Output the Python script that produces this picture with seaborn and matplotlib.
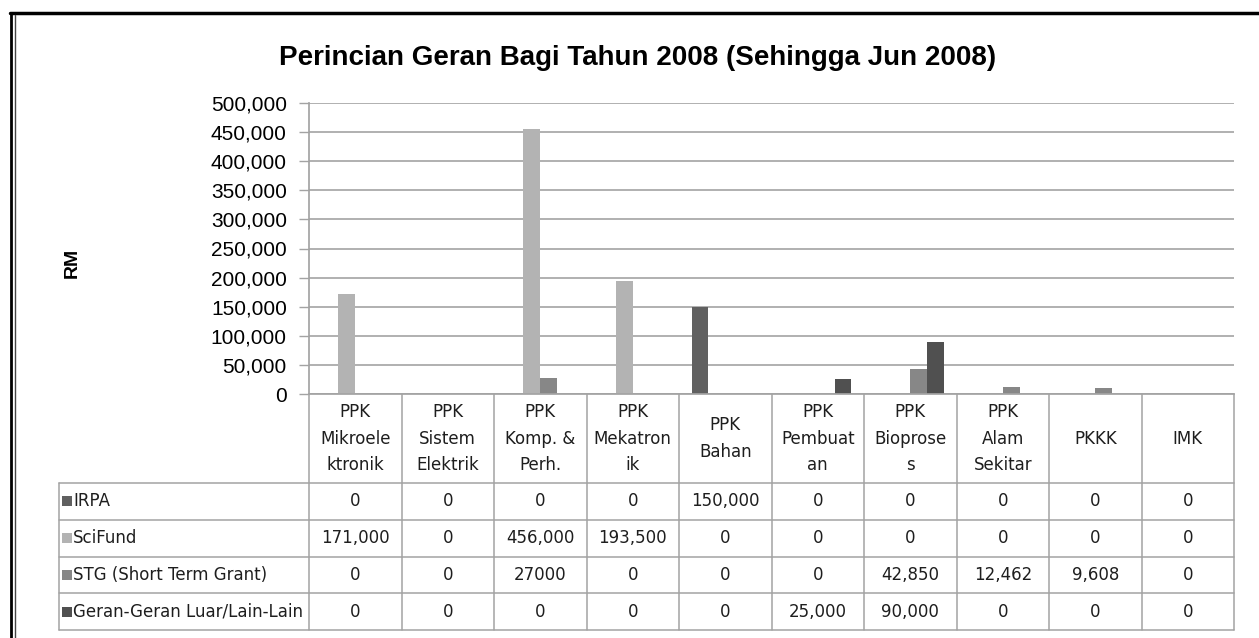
import numpy as np
import pandas as pd
import matplotlib
matplotlib.use("Agg")
import matplotlib.pyplot as plt
import matplotlib.transforms as mtransforms
from matplotlib.patches import Rectangle
from matplotlib.ticker import FuncFormatter
import seaborn as sns

# data (RM)
categories = ["PPK\nMikroele\nktronik", "PPK\nSistem\nElektrik", "PPK\nKomp. &\nPerh.",
              "PPK\nMekatron\nik", "PPK\nBahan", "PPK\nPembuat\nan", "PPK\nBioprose\ns",
              "PPK\nAlam\nSekitar", "PKKK", "IMK"]
series_names = ["IRPA", "SciFund", "STG (Short Term Grant)", "Geran-Geran Luar/Lain-Lain"]
irpa = [0, 0, 0, 0, 150000, 0, 0, 0, 0, 0]
scifund = [171000, 0, 456000, 193500, 0, 0, 0, 0, 0, 0]
stg = [0, 0, 27000, 0, 0, 0, 42850, 12462, 9608, 0]
geran = [0, 0, 0, 0, 0, 25000, 90000, 0, 0, 0]
y_ticks = [0, 50000, 100000, 150000, 200000, 250000, 300000, 350000, 400000, 450000, 500000]
# the source table prints this one cell without a thousands separator
plain_cells = {("STG (Short Term Grant)", 2)}

series_colors = ["#606060", "#b3b3b3", "#878787", "#505050"]
grid_color = "#a3a3a3"
W, H = 1259, 638

sns.set_theme(style="white")
plt.rcParams["font.family"] = ["Liberation Sans", "DejaVu Sans"]
plt.rcParams["text.color"] = "black"

values = [irpa, scifund, stg, geran]
df = pd.concat([
    pd.DataFrame({"category": categories, "series": name, "value": vals})
    for name, vals in zip(series_names, values)
], ignore_index=True)

fig = plt.figure(figsize=(W / 100, H / 100), dpi=100)
fig.patch.set_facecolor("white")


def fx(px):
    return px / W


def fy(py):
    return 1 - py / H


ax_left, ax_right, ax_top, ax_bottom = 309, 1234, 103, 394
ax = fig.add_axes([fx(ax_left), fy(ax_bottom), fx(ax_right - ax_left), (ax_bottom - ax_top) / H])

sns.barplot(data=df, x="category", y="value", hue="series", palette=series_colors,
            hue_order=series_names, order=categories, width=0.727, saturation=1,
            errorbar=None, linewidth=0, legend=False, ax=ax)

ax.set_xlim(-0.5, len(categories) - 0.5)
ax.set_ylim(0, 500000)
ax.set_yticks(y_ticks)
ax.yaxis.set_major_formatter(FuncFormatter(lambda v, p: f"{int(v):,}"))
ax.set_xticks([])
ax.set_xlabel("")
ax.set_ylabel("")
ax.set_axisbelow(True)
ax.yaxis.grid(True, color=grid_color, linewidth=1.2)
for side in ["top", "right"]:
    ax.spines[side].set_visible(False)
ax.spines["left"].set_color(grid_color)
ax.spines["bottom"].set_color(grid_color)
ax.tick_params(axis="y", which="major", direction="out", length=7, width=1,
               color=grid_color, labelsize=15, labelcolor="black", pad=9, left=True)

# title, y axis label
fig.text(fx(638), fy(58), "Perincian Geran Bagi Tahun 2008 (Sehingga Jun 2008)",
         ha="center", va="center", fontsize=20, fontweight="bold", color="black",
         family=["Liberation Sans Narrow", "Liberation Sans", "DejaVu Sans"])
fig.text(fx(72), fy(263), "RM", rotation=90, ha="center", va="center",
         fontsize=14, fontweight="bold", color="black")

# data table under the plot
trans = mtransforms.blended_transform_factory(ax.transData, fig.transFigure)
header_bottom, row_h = 483, 36.8
n_rows = len(series_names)
table_bottom = header_bottom + n_rows * row_h
legend_left = 59
line_kw = dict(color=grid_color, linewidth=1.1, clip_on=False)
edges = np.arange(len(categories) + 1) - 0.5

for e in edges:
    ax.plot([e, e], [fy(ax_bottom), fy(table_bottom)], transform=trans, **line_kw)
for k in range(n_rows + 1):
    yy = fy(header_bottom + k * row_h)
    fig.add_artist(plt.Line2D([fx(legend_left), fx(ax_right)], [yy, yy], **line_kw))
fig.add_artist(plt.Line2D([fx(legend_left), fx(legend_left)],
                          [fy(header_bottom), fy(table_bottom)], **line_kw))

table_font = dict(fontsize=12, color="#1e1e1e", family=["DejaVu Sans"])
for i, cat in enumerate(categories):
    ax.text(i, fy((ax_bottom + header_bottom) / 2), cat, transform=trans,
            ha="center", va="center", linespacing=1.6, **table_font)

for r, (name, vals, col) in enumerate(zip(series_names, values, series_colors)):
    yc = fy(header_bottom + (r + 0.5) * row_h)
    fig.add_artist(Rectangle((fx(62), yc - 5 / H), 10 / W, 10 / H,
                             facecolor=col, edgecolor="none", transform=fig.transFigure))
    fig.text(fx(73), yc, name, ha="left", va="center", **table_font)
    for i, v in enumerate(vals):
        label = str(v) if (name, i) in plain_cells else f"{v:,}"
        ax.text(i, yc, label, transform=trans, ha="center", va="center", **table_font)

# outer chart frame (top and left edges are visible in the source)
fig.add_artist(plt.Line2D([fx(10), fx(W)], [fy(13), fy(13)], color="black", linewidth=2.5))
fig.add_artist(plt.Line2D([fx(11), fx(11)], [fy(13), fy(H)], color="black", linewidth=2.0))
fig.add_artist(plt.Line2D([fx(15), fx(15)], [fy(15), fy(H)], color="#444444", linewidth=1.0))

fig.savefig("out.png", dpi=100)
